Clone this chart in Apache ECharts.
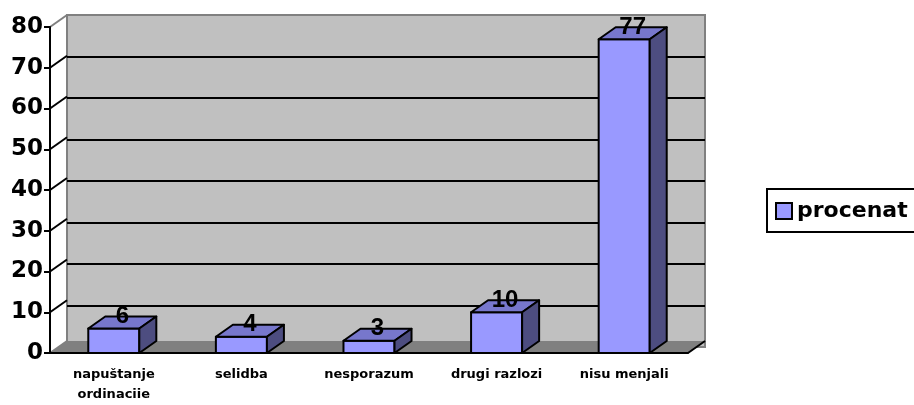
<!DOCTYPE html>
<html>
<head>
<meta charset="utf-8">
<script src="https://cdn.jsdelivr.net/npm/echarts@6/dist/echarts.min.js"></script>
<style>
  html, body { margin: 0; padding: 0; background: #ffffff; }
  #main { width: 914px; height: 405px; }
</style>
</head>
<body>
<div id="main"></div>
<script>
// podaci
const categories = ["napuštanje\nordinaciie", "selidba", "nesporazum", "drugi razlozi", "nisu menjali"];
const procenat = [6, 4, 3, 10, 77];
const yTicks = [0, 10, 20, 30, 40, 50, 60, 70, 80];

// 3d pomak (dubina)
const DX = 17;
const DY = -12;

const chart = echarts.init(document.getElementById("main"));

function renderBar(params, api) {
  const i = api.value(0);
  const v = api.value(1);
  const top = api.coord([i, v]);
  const base = api.coord([i, 0]);
  const w = api.size([1, 0])[0] * 0.4;
  const x0 = top[0] - w / 2;
  const x1 = top[0] + w / 2;
  const edge = { stroke: "#000000", lineWidth: 2, lineJoin: "round" };
  return {
    type: "group",
    children: [
      {
        type: "polygon",
        shape: { points: [[x0, base[1]], [x1, base[1]], [x1, top[1]], [x0, top[1]]] },
        style: Object.assign({ fill: "#9999ff" }, edge)
      },
      {
        type: "polygon",
        shape: { points: [[x0, top[1]], [x1, top[1]], [x1 + DX, top[1] + DY], [x0 + DX, top[1] + DY]] },
        style: Object.assign({ fill: "#7777cc" }, edge)
      },
      {
        type: "polygon",
        shape: { points: [[x1, base[1]], [x1 + DX, base[1] + DY], [x1 + DX, top[1] + DY], [x1, top[1]]] },
        style: Object.assign({ fill: "#4d4d80" }, edge)
      },
      {
        type: "text",
        z2: 10,
        style: {
          text: String(v),
          x: top[0] + DX / 2,
          y: top[1] + DY,
          align: "center",
          verticalAlign: "middle",
          fontFamily: '"Liberation Sans", Arial, sans-serif',
          fontWeight: "bold",
          fontSize: 24,
          fill: "#000000"
        }
      }
    ]
  };
}

// pod
function renderFloor(params, api) {
  const bw = api.size([1, 0])[0];
  const l = api.coord([0, 0]);
  const r = api.coord([categories.length - 1, 0]);
  const xl = l[0] - bw / 2;
  const xr = r[0] + bw / 2;
  const y = l[1];
  return {
    type: "group",
    children: [
      {
        type: "polygon",
        shape: { points: [[xl, y], [xr, y], [xr + DX, y + DY], [xl + DX, y + DY]] },
        style: { fill: "#808080" }
      },
      {
        type: "line",
        shape: { x1: xr, y1: y, x2: xr + DX, y2: y + DY },
        style: { stroke: "#000000", lineWidth: 2 }
      }
    ]
  };
}

// bocni zid - kose linije
function renderSide(params, api) {
  const v = api.value(1);
  const bw = api.size([1, 0])[0];
  const p = api.coord([0, v]);
  const x = p[0] - bw / 2;
  const edgeLine = v === yTicks[0] || v === yTicks[yTicks.length - 1];
  return {
    type: "line",
    shape: { x1: x, y1: p[1], x2: x + DX, y2: p[1] + DY },
    style: { stroke: edgeLine ? "#808080" : "#000000", lineWidth: 2 }
  };
}

chart.setOption({
  backgroundColor: "#ffffff",
  animation: false,
  legend: {
    left: 767,
    top: 189,
    orient: "vertical",
    borderColor: "#000000",
    borderWidth: 2,
    borderRadius: 0,
    padding: [11, 20, 10, 8],
    itemWidth: 16,
    itemHeight: 16,
    selectedMode: false,
    data: [
      {
        name: "procenat",
        icon: "rect",
        itemStyle: { color: "#9999ff", borderColor: "#000000", borderWidth: 2 }
      }
    ],
    textStyle: {
      fontFamily: '"DejaVu Sans", sans-serif',
      fontWeight: "bold",
      fontSize: 22,
      lineHeight: 17,
      color: "#000000"
    }
  },
  grid: [
    // zadnji zid
    {
      left: 67, right: 209, top: 15, bottom: 58,
      show: true,
      backgroundColor: "#c0c0c0",
      borderColor: "#808080",
      borderWidth: 2
    },
    // prednja ravan
    { left: 50, right: 226, top: 27, bottom: 46 }
  ],
  xAxis: [
    { type: "category", gridIndex: 0, data: categories, show: false },
    {
      type: "category",
      gridIndex: 1,
      data: categories,
      z: 5,
      axisLine: { lineStyle: { color: "#000000", width: 2 } },
      axisTick: { length: 6, lineStyle: { color: "#000000", width: 2 } },
      axisLabel: {
        interval: 0,
        margin: 12,
        color: "#000000",
        fontFamily: '"DejaVu Sans", sans-serif',
        fontWeight: "bold",
        fontSize: 13,
        lineHeight: 20
      }
    }
  ],
  yAxis: [
    {
      type: "value",
      gridIndex: 0,
      min: 0, max: 80, interval: 10,
      axisLine: { show: false },
      axisTick: { show: false },
      axisLabel: { show: false },
      splitLine: {
        show: true,
        showMinLine: false,
        showMaxLine: false,
        lineStyle: { color: "#000000", width: 2 }
      }
    },
    {
      type: "value",
      gridIndex: 1,
      min: 0, max: 80, interval: 10,
      z: 5,
      axisLine: { show: true, lineStyle: { color: "#000000", width: 2 } },
      axisTick: { show: true, length: 6, lineStyle: { color: "#000000", width: 2 } },
      axisLabel: {
        margin: 7,
        color: "#000000",
        fontFamily: '"DejaVu Sans", sans-serif',
        fontWeight: "bold",
        fontSize: 23
      },
      splitLine: { show: false }
    }
  ],
  series: [
    {
      name: "pod",
      type: "custom",
      xAxisIndex: 1,
      yAxisIndex: 1,
      z: 1,
      silent: true,
      renderItem: renderFloor,
      data: [[0, 0]]
    },
    {
      name: "zid",
      type: "custom",
      xAxisIndex: 1,
      yAxisIndex: 1,
      z: 1,
      silent: true,
      renderItem: renderSide,
      data: yTicks.map(function (v) { return [0, v]; })
    },
    {
      name: "procenat",
      type: "custom",
      xAxisIndex: 1,
      yAxisIndex: 1,
      z: 3,
      itemStyle: { color: "#9999ff" },
      renderItem: renderBar,
      encode: { x: 0, y: 1 },
      data: procenat.map(function (v, i) { return [i, v]; })
    }
  ]
});
</script>
</body>
</html>
